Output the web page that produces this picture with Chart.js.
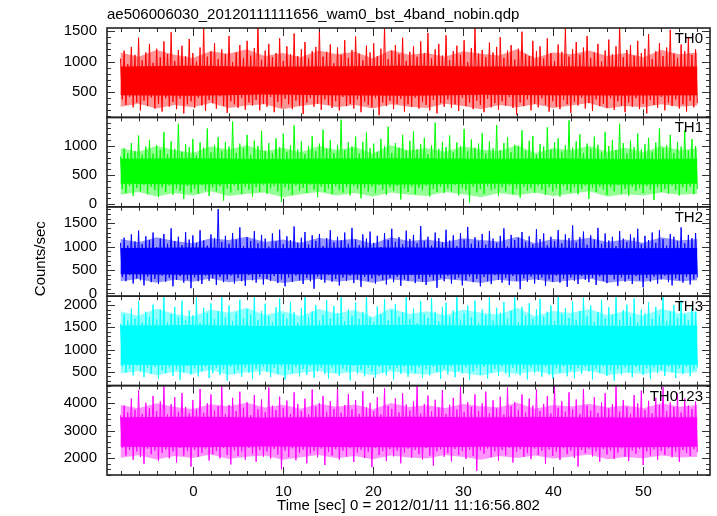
<!DOCTYPE html>
<html>
<head>
<meta charset="utf-8">
<script src="https://cdn.jsdelivr.net/npm/chart.js@4.4.1/dist/chart.umd.min.js"></script>
<style>
  html, body { margin: 0; padding: 0; background: #fff; }
  #wrap { width: 717px; height: 516px; }
</style>
</head>
<body>
<div id="wrap"><canvas id="lc" width="717" height="516"></canvas></div>
<script>
// Light curve, counts/sec per band (peaks / troughs of the trace)
const startTime = -8.1;
const endTime = 56.0;

const th0 = [
  1050,380, 1180,290, 960,420, 1240,250, 1110,330, 1390,200, 1020,360, 1150,270, 1290,410, 980,230,
  1210,310, 1070,180, 1330,400, 1120,260, 1480,340, 1010,220, 1190,390, 1260,150, 1090,300, 1370,350,
  1140,240, 1000,410, 1230,280, 1560,190, 1080,370, 1170,320, 1300,230, 1040,430, 1200,270, 1120,160,
  1420,350, 990,300, 1150,240, 1270,400, 1060,210, 1340,330, 1100,280, 1220,370, 1610,200, 1030,310,
  1180,260, 1290,420, 1070,170, 1140,340, 1380,250, 1010,390, 1250,300, 1120,220, 1460,360, 1090,280,
  1200,140, 1320,330, 1050,400, 1170,260, 1240,310, 1530,210, 1080,380, 1160,290, 1280,240, 970,350,
  1230,200, 1110,420, 1350,270, 1060,310, 1190,230, 1410,380, 1130,170, 1020,340, 1260,290, 1150,250,
  1300,400, 1090,120, 1210,330, 1570,270, 1040,360, 1180,220, 1270,310, 1120,390, 1390,180, 1010,300,
  1160,260, 1250,410, 1080,230, 1330,340, 1140,290, 1470,200, 1050,370, 1200,150, 1290,320, 1100,260,
  1430,380, 1020,240, 1170,300, 1260,190, 1110,410, 1350,270, 990,330, 1220,220, 1580,360, 1130,290,
  1190,170, 1070,390, 1310,250, 1150,320, 1240,210, 1400,350, 1060,280, 1180,420, 1270,240, 1030,130,
  1210,330, 1490,270, 1120,380, 1090,200, 1340,310, 1170,250, 1250,400, 1050,290, 1380,180, 1140,350,
  1010,260, 1280,220, 1160,370, 1550,300, 1080,160, 1200,340, 1320,280, 1110,410, 1230,230, 1420,320,
  1060,190, 1150,380, 1290,270, 1000,310, 1180,240, 1360,400, 1120,210, 1250,350, 1600,280, 1070,170,
  1190,330, 1270,260, 1100,400, 1340,220, 1140,310, 1210,150, 1450,370, 1040,290, 1170,240, 1300,420,
  1090,200, 1230,330, 1520,270, 1130,380, 1060,230, 1280,300, 1170,180, 1390,360, 1110,250, 1200,320];

const th1 = [
  820,260, 960,190, 880,310, 1050,140, 910,280, 1180,220, 850,330, 990,170, 1100,300, 870,240,
  1010,120, 930,290, 1240,210, 860,320, 1080,160, 950,270, 1380,230, 900,90, 1030,310, 980,200,
  1120,260, 840,180, 1060,330, 970,250, 1300,140, 890,290, 1020,220, 1150,310, 910,60, 1070,270,
  990,200, 1420,320, 880,240, 1040,170, 960,300, 1190,250, 850,130, 1090,290, 1000,210, 1260,330,
  920,180, 1050,270, 870,310, 1130,220, 980,40, 1210,290, 900,250, 1010,160, 1350,320, 940,230,
  1080,280, 860,190, 1000,330, 1170,250, 910,120, 1040,300, 1280,210, 950,270, 1100,170, 880,310,
  1020,240, 1450,200, 930,290, 1060,150, 990,320, 1160,260, 870,100, 1070,280, 1230,220, 960,300,
  1040,190, 900,330, 1120,250, 1000,160, 1330,290, 880,230, 1050,310, 970,80, 1190,270, 920,210,
  1090,300, 1250,170, 940,280, 1030,240, 1140,320, 860,130, 1010,260, 1400,210, 950,300, 1070,190,
  980,270, 1180,220, 890,330, 1060,150, 1000,280, 1290,240, 910,30, 1110,300, 970,200, 1040,260,
  1220,180, 870,310, 1080,240, 960,270, 1360,140, 930,290, 1050,220, 1150,320, 890,170, 1020,260,
  1000,110, 1270,300, 920,230, 1090,280, 1170,190, 850,320, 1030,250, 990,160, 1320,290, 940,220,
  1060,270, 1130,130, 900,310, 1010,240, 1440,200, 970,290, 1080,170, 1200,260, 880,320, 1040,90,
  950,280, 1160,210, 1020,300, 890,250, 1240,160, 1000,290, 1100,220, 930,330, 1380,180, 1050,260,
  870,140, 1090,300, 980,230, 1210,270, 940,190, 1030,310, 1140,250, 900,70, 1060,290, 1300,210,
  960,260, 1010,180, 1190,320, 880,240, 1070,150, 990,290, 1270,220, 920,300, 1120,170, 1000,260];

const th2 = [
  1080,350, 1190,260, 1020,390, 1260,210, 1110,320, 1340,280, 1050,170, 1220,360, 1140,240, 1300,310,
  990,200, 1170,380, 1270,250, 1060,330, 1390,150, 1120,290, 1210,370, 1030,230, 1310,300, 1150,110,
  1240,340, 1080,260, 1350,200, 1130,380, 1020,270, 1260,320, 1180,180, 1800,350, 1100,240, 1230,300,
  1060,380, 1290,210, 1150,330, 1410,260, 1010,160, 1200,390, 1120,280, 1330,230, 1070,350, 1250,190,
  1170,310, 1000,270, 1280,370, 1110,220, 1360,300, 1050,150, 1220,340, 1140,250, 1430,380, 1080,280,
  1190,200, 1310,330, 1040,260, 1240,100, 1120,360, 1270,290, 1010,230, 1180,390, 1350,250, 1090,310,
  1210,170, 1130,340, 1300,270, 1060,380, 1400,220, 1150,300, 1030,140, 1260,350, 1170,260, 1320,320,
  1080,210, 1230,370, 990,280, 1290,190, 1140,330, 1380,240, 1100,360, 1200,160, 1050,300, 1340,270,
  1160,390, 1250,220, 1070,310, 1440,250, 1120,180, 1210,350, 1020,280, 1300,120, 1180,330, 1090,260,
  1360,380, 1130,210, 1240,300, 1010,340, 1290,170, 1150,280, 1420,360, 1060,240, 1200,310, 1110,150,
  1270,350, 1040,260, 1330,200, 1170,390, 1080,290, 1230,230, 1390,330, 1000,180, 1250,370, 1140,270,
  1190,90, 1310,320, 1100,250, 1220,360, 1050,210, 1370,290, 1160,340, 1280,160, 1030,300, 1210,250,
  1120,380, 1350,230, 1070,310, 1260,140, 1180,340, 1450,270, 1090,200, 1200,370, 1320,290, 1040,240,
  1240,330, 1150,180, 1400,360, 1060,270, 1280,220, 1130,390, 1210,300, 1010,160, 1330,340, 1170,250,
  1100,310, 1260,200, 1190,370, 1380,280, 1050,130, 1230,330, 1140,250, 1300,360, 1080,210, 1350,300,
  1160,380, 1020,240, 1270,170, 1210,320, 1120,280, 1410,230, 1070,350, 1250,190, 1180,300, 1290,340];

const th3 = [
  1580,620, 1790,480, 1650,560, 1920,420, 1700,640, 2080,510, 1610,380, 1850,590, 1740,450, 2010,610,
  1680,350, 1900,530, 2230,470, 1620,600, 1810,410, 1960,560, 1730,320, 2100,490, 1660,630, 1880,440,
  1770,580, 2170,400, 1600,520, 1940,610, 1820,360, 2040,470, 1690,590, 1860,430, 2260,550, 1720,300,
  1990,620, 1640,460, 1830,540, 2120,390, 1710,600, 1910,480, 1780,340, 2210,570, 1660,430, 1870,610,
  2030,500, 1750,380, 1620,590, 1950,450, 2150,620, 1800,330, 1690,540, 2070,470, 1840,610, 1600,400,
  1930,560, 2240,430, 1730,620, 1860,370, 2000,510, 1650,590, 1780,450, 2110,350, 1700,600, 1980,480,
  1820,410, 2190,570, 1640,520, 1900,310, 1760,630, 2060,460, 1690,540, 1850,400, 2270,590, 1720,500,
  1610,370, 1970,610, 1800,480, 2130,420, 1660,560, 1890,330, 2020,590, 1740,450, 1840,620, 2200,390,
  1680,530, 1920,470, 1590,600, 2090,360, 1790,550, 1710,420, 2160,610, 1850,490, 1630,340, 1960,570,
  2050,440, 1740,620, 1880,380, 2230,530, 1670,460, 1810,600, 1990,320, 1720,510, 2100,580, 1600,430,
  1900,610, 1780,350, 2180,490, 1650,570, 1940,410, 1830,620, 2070,460, 1700,380, 1870,590, 2250,500,
  1620,420, 1960,560, 1760,330, 2040,600, 1690,470, 1910,520, 2140,390, 1730,610, 1850,440, 1990,350,
  1640,580, 2210,480, 1800,620, 1930,400, 1710,540, 2080,360, 1670,590, 1870,450, 2170,610, 1750,500,
  1990,330, 1620,570, 1840,470, 2120,620, 1700,410, 1950,530, 1780,300, 2260,560, 1660,440, 1890,600,
  2010,490, 1730,380, 2150,610, 1610,520, 1900,430, 1820,580, 2060,350, 1690,600, 1960,470, 1770,540,
  2230,410, 1640,620, 1870,490, 2000,360, 1720,580, 2110,450, 1800,610, 1660,400, 1940,550, 1850,590];

const th0123 = [
  3550,2380, 3900,2100, 3650,2300, 4150,1950, 3750,2250, 4450,2050, 3600,1800, 4000,2350, 3800,2150, 4250,2280,
  3700,1900, 4050,2200, 4600,2320, 3580,2000, 3950,2250, 4200,1850, 3680,2380, 4350,2100, 3850,2260, 3620,1700,
  4100,2300, 3760,2050, 4500,2200, 3640,2340, 3980,1920, 4300,2150, 3720,2260, 3880,2000, 4650,2370, 3600,2120,
  3920,1780, 4180,2290, 3700,2080, 4400,2240, 3820,1950, 4020,2380, 3560,2170, 4280,1880, 3760,2300, 4120,2060,
  3660,2250, 4550,1990, 3900,2340, 3740,2140, 4220,1600, 3820,2280, 4080,2050, 3600,2360, 4380,1930, 3960,2200,
  3700,2310, 4150,1820, 3580,2160, 4480,2270, 3860,2040, 3990,2350, 4250,1760, 3680,2230, 4060,2100, 3780,2330,
  4600,1950, 3640,2280, 3920,2070, 4320,2360, 3760,1870, 4100,2210, 3600,2310, 4420,2010, 3840,2240, 4000,1680,
  3700,2370, 4200,2120, 3580,2260, 4520,1900, 3880,2330, 3780,2070, 4160,2280, 3650,1820, 4340,2200, 3940,2350,
  3720,2030, 4050,2300, 4640,2150, 3610,1960, 3960,2370, 4260,2100, 3690,1740, 4110,2250, 3830,2320, 4460,2060,
  3600,2200, 3930,1890, 4180,2340, 3760,2130, 4580,2260, 3660,1980, 4020,2310, 3850,2080, 4300,1550, 3700,2290,
  3980,2170, 4400,2350, 3630,2040, 4090,2250, 3800,1920, 4220,2300, 3580,2110, 4550,2380, 3880,1850, 4030,2230,
  3740,2330, 4300,2060, 3650,2190, 4150,1970, 3900,2350, 4480,2120, 3700,2270, 3960,1800, 4240,2320, 3610,2090,
  4620,2240, 3820,1940, 4060,2360, 3680,2150, 4380,2280, 3760,2010, 4120,1700, 3600,2300, 4500,2190, 3900,2350,
  3720,2070, 4200,2250, 3640,1880, 4020,2330, 4350,2140, 3800,2290, 3950,1980, 4600,2210, 3690,2360, 4100,2060,
  3860,1900, 3610,2280, 4280,2170, 3980,2340, 4440,1760, 3740,2250, 4070,2100, 3620,2320, 4180,1950, 3920,2270,
  4560,2130, 3700,2360, 4010,2040, 3840,2240, 4330,1870, 3650,2300, 4150,2190, 3900,2080, 3780,2330, 4050,2220];

// solid middle part of each band, lower / upper edge
const coreLow  = [[450,440,460,450,440,455,450,445,450],
                  [350,340,355,345,340,350,345,340,350],
                  [410,400,415,405,400,410,405,400,410],
                  [660,650,670,660,650,665,660,655,660],
                  [2420,2400,2430,2410,2400,2420,2410,2400,2420]];
const coreHigh = [[920,930,915,925,930,920,925,915,920],
                  [780,790,775,785,790,780,785,775,780],
                  [970,980,965,975,980,970,975,965,970],
                  [1540,1550,1530,1545,1550,1540,1545,1530,1540],
                  [3480,3500,3470,3490,3500,3480,3490,3470,3480]];

// densely hatched part around the core (many overlapping bins), lower / upper edge
const fuzzLow = [
  [260,310,230,290,250,320,240,280,300,220,270,310,250,290,230,300,260,240,310,270,220,290,250,300,240,280,320,230,270,250,300,260,280],
  [160,210,130,190,150,220,140,180,200,120,170,210,150,190,130,200,160,140,210,170,120,190,150,200,140,180,220,130,170,150,200,160,180],
  [260,310,230,290,250,320,240,280,300,220,270,310,250,290,230,300,260,240,310,270,220,290,250,300,240,280,320,230,270,250,300,260,280],
  [460,520,420,500,450,540,430,490,510,410,480,520,450,500,420,510,460,440,520,480,410,500,450,510,440,490,530,420,480,450,510,460,490],
  [2020,2110,1960,2080,2010,2140,1980,2060,2100,1950,2040,2120,2000,2080,1970,2100,2030,1990,2120,2050,1950,2080,2010,2100,1990,2060,2140,1970,2050,2000,2100,2030,2060]];
const fuzzHigh = [
  [1150,1080,1190,1110,1060,1170,1130,1200,1090,1140,1070,1180,1120,1160,1050,1190,1110,1140,1080,1170,1130,1100,1200,1060,1150,1120,1180,1090,1140,1070,1190,1120,1150],
  [960,900,1000,930,880,990,940,1010,910,970,890,1000,930,980,870,1010,920,960,900,990,940,910,1010,880,960,930,1000,900,970,890,1000,930,960],
  [1160,1090,1200,1120,1070,1180,1140,1210,1100,1150,1080,1190,1130,1170,1060,1200,1120,1150,1090,1180,1140,1110,1210,1070,1160,1130,1190,1100,1150,1080,1200,1130,1160],
  [1860,1760,1920,1800,1740,1900,1830,1940,1780,1870,1750,1910,1810,1890,1730,1930,1800,1860,1770,1900,1830,1790,1940,1750,1870,1820,1910,1780,1860,1760,1920,1810,1860],
  [3920,3800,3980,3850,3780,3950,3880,4000,3830,3930,3790,3970,3860,3940,3770,3990,3850,3910,3810,3960,3880,3840,4000,3790,3920,3870,3970,3830,3910,3800,3980,3860,3920]];

const bandNames  = ['TH0', 'TH1', 'TH2', 'TH3', 'TH0123'];
const bandSeries = [th0, th1, th2, th3, th0123];
const bandColors = ['#ff0000', '#00ff00', '#0000ff', '#00ffff', '#ff00ff'];
const fuzzColors = ['rgba(255,0,0,0.42)', 'rgba(0,255,0,0.42)', 'rgba(0,0,255,0.42)',
                    'rgba(0,255,255,0.42)', 'rgba(255,0,255,0.42)'];
const yMin   = [85, -45, -60, 190, 1400];
const yMax   = [1550, 1490, 1850, 2200, 4620];
const yTicks = [[500, 1000, 1500],
                [0, 500, 1000],
                [0, 500, 1000, 1500],
                [500, 1000, 1500, 2000],
                [2000, 3000, 4000]];
const yMinor = [100, 100, 100, 100, 200];
const xTicks = [0, 10, 20, 30, 40, 50];
const xMin = -9.6, xMax = 57.4, xMinor = 2;

const FONT = '"Liberation Sans", Arial, Helvetica, sans-serif';
Chart.defaults.font.family = FONT;
Chart.defaults.font.size = 15;
Chart.defaults.color = '#000';

function toPoints(values) {
    const dt = (endTime - startTime) / (values.length - 1);
    return values.map((v, i) => ({ x: startTime + i * dt, y: v }));
}

// a pair of datasets whose area in between is filled
function band(low, high, axis, color) {
    return [
        { data: toPoints(low), yAxisID: axis, borderWidth: 0, pointRadius: 0, fill: false },
        { data: toPoints(high), yAxisID: axis, borderWidth: 0, pointRadius: 0, backgroundColor: color, fill: '-1' }
    ];
}

const panelIds = bandNames.map((n, i) => 'y' + i);

const datasets = [];
bandNames.forEach((name, i) => {
    datasets.push(...band(fuzzLow[i], fuzzHigh[i], panelIds[i], fuzzColors[i]));
    datasets.push(...band(coreLow[i], coreHigh[i], panelIds[i], bandColors[i]));
    datasets.push({
        label: name,
        data: toPoints(bandSeries[i]),
        yAxisID: panelIds[i],
        borderColor: bandColors[i],
        borderWidth: 1,
        pointRadius: 0,
        tension: 0,
        fill: false
    });
});

const plainNumber = v => String(v);

const scales = {
    x: {
        type: 'linear',
        position: 'bottom',
        min: xMin,
        max: xMax,
        grid: { display: false, drawTicks: false },
        border: { display: false },
        ticks: { padding: 8, autoSkip: false, callback: plainNumber },
        afterBuildTicks: s => { s.ticks = xTicks.map(v => ({ value: v })); },
        title: {
            display: true,
            text: 'Time [sec] 0 = 2012/01/11 11:16:56.802',
            padding: { top: 0, bottom: 1 }
        },
        afterFit: s => { s.height = 41; }
    }
};
// stacked scales are laid out bottom-up, so add the last panel first
for (let i = panelIds.length - 1; i >= 0; i--) {
    scales[panelIds[i]] = {
        type: 'linear',
        position: 'left',
        stack: 'bands',
        stackWeight: 1,
        min: yMin[i],
        max: yMax[i],
        grid: { display: false, drawTicks: false },
        border: { display: false },
        ticks: { padding: 10, autoSkip: false, callback: plainNumber },
        afterBuildTicks: s => { s.ticks = yTicks[i].map(v => ({ value: v })); },
        title: {
            display: i === 2,
            text: 'Counts/sec',
            align: 'start',
            padding: { top: 32 }
        },
        afterFit: s => { s.width = 107; }
    };
}

// qdp style frame: box per panel, ticks pointing inwards on all sides, band name
const panelFrame = {
    id: 'panelFrame',
    afterDatasetsDraw(chart) {
        const ctx = chart.ctx;
        const area = chart.chartArea;
        const xs = chart.scales.x;
        ctx.save();
        ctx.strokeStyle = '#333';
        ctx.lineWidth = 1;
        const seg = (x1, y1, x2, y2) => {
            ctx.beginPath();
            ctx.moveTo(x1, y1);
            ctx.lineTo(x2, y2);
            ctx.stroke();
        };
        panelIds.forEach((id, i) => {
            const ys = chart.scales[id];
            const major = yTicks[i][1] - yTicks[i][0];
            // y ticks, left and right
            for (let v = Math.ceil(ys.min / yMinor[i]) * yMinor[i]; v <= ys.max; v += yMinor[i]) {
                const py = Math.round(ys.getPixelForValue(v)) + 0.5;
                const len = (v % major === 0) ? 8 : 4;
                seg(area.left, py, area.left + len, py);
                seg(area.right, py, area.right - len, py);
            }
            // time ticks, top and bottom of the panel
            for (let t = Math.ceil(xMin / xMinor) * xMinor; t <= xMax; t += xMinor) {
                const px = Math.round(xs.getPixelForValue(t)) + 0.5;
                const len = xTicks.includes(t) ? 8 : 4;
                seg(px, ys.top, px, ys.top + len);
                seg(px, ys.bottom, px, ys.bottom - len);
            }
        });
        ctx.lineWidth = 1.6;
        ctx.strokeStyle = '#222';
        panelIds.forEach(id => {
            const ys = chart.scales[id];
            ctx.strokeRect(area.left, ys.top, area.right - area.left, ys.bottom - ys.top);
        });
        ctx.fillStyle = '#000';
        ctx.font = '15px ' + FONT;
        ctx.textAlign = 'right';
        ctx.textBaseline = 'alphabetic';
        panelIds.forEach((id, i) => {
            const ys = chart.scales[id];
            ctx.fillText(bandNames[i], area.right - 7, ys.top + 15);
        });
        ctx.restore();
    }
};

new Chart(document.getElementById('lc').getContext('2d'), {
    type: 'line',
    data: { datasets: datasets },
    options: {
        responsive: false,
        animation: false,
        events: [],
        layout: { padding: { left: 0, right: 7, top: 0, bottom: 0 } },
        scales: scales,
        plugins: {
            legend: { display: false },
            tooltip: { enabled: false },
            title: {
                display: true,
                text: 'ae506006030_20120111111656_wam0_bst_4band_nobin.qdp',
                align: 'start',
                fullSize: false,
                color: '#000',
                font: { size: 15, weight: 'normal' },
                padding: { top: 6, bottom: 4 }
            }
        }
    },
    plugins: [panelFrame]
});
</script>
</body>
</html>
